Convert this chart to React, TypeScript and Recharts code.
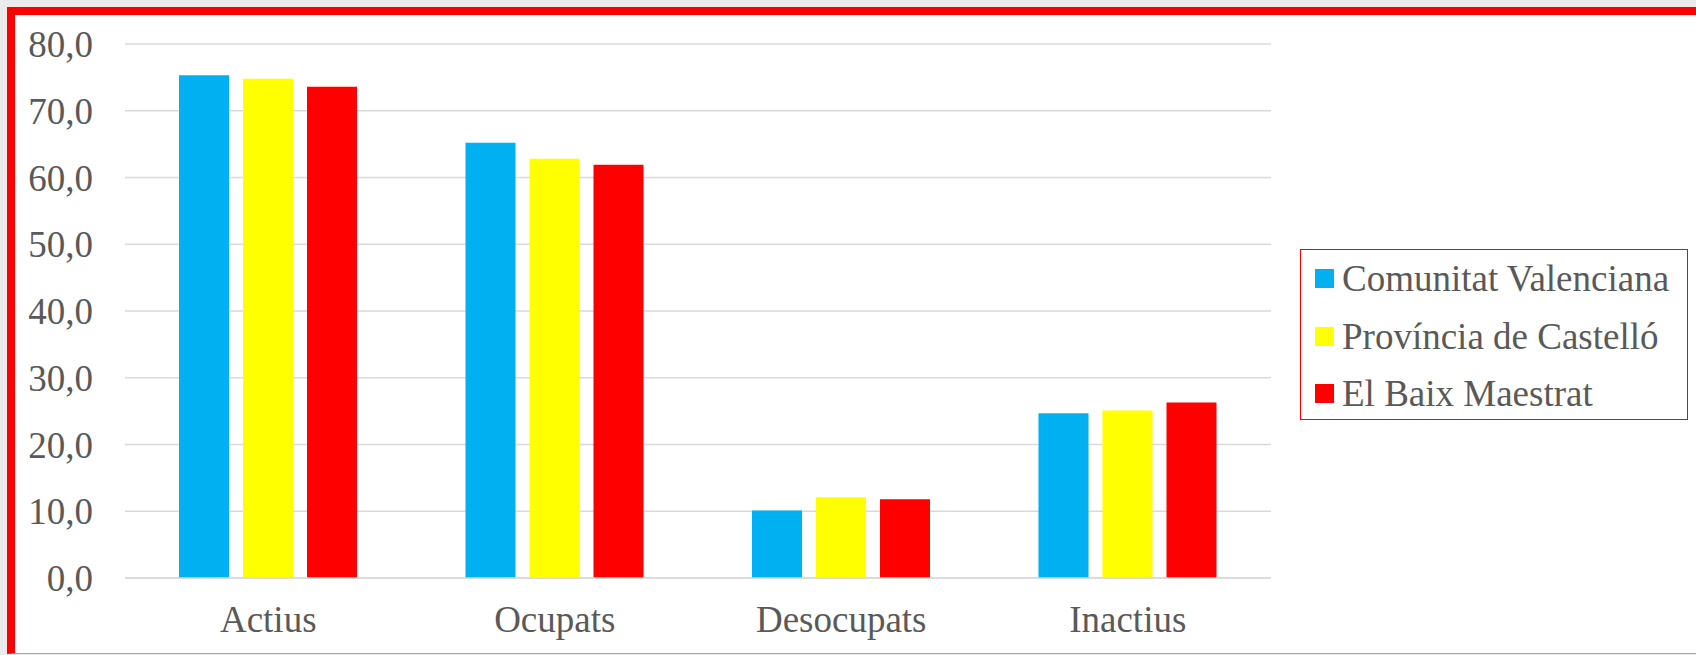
import { BarChart, Bar, XAxis, YAxis, CartesianGrid, Legend } from "recharts";

const categories = ["Actius", "Ocupats", "Desocupats", "Inactius"];
const comunitat = [75.3, 65.2, 10.1, 24.7];
const castello = [74.8, 62.8, 12.1, 25.1];
const baixMaestrat = [73.6, 61.9, 11.8, 26.3];
const yTicks = [0, 10, 20, 30, 40, 50, 60, 70, 80];

const series = [
  { key: "cv", name: "Comunitat Valenciana", color: "#00B0F0", values: comunitat },
  { key: "pc", name: "Província de Castelló", color: "#FFFF00", values: castello },
  { key: "bm", name: "El Baix Maestrat", color: "#FF0000", values: baixMaestrat },
];

const data = categories.map((c, i) => {
  const row: Record<string, string | number> = { label: c };
  series.forEach((s) => (row[s.key] = s.values[i]));
  return row;
});

const FONT = "'Liberation Serif', 'Times New Roman', serif";
const TEXT = "#595959";

// legend drawn in series order, in a fixed box to the right of the plot
const LegendBox = () => (
  <div
    style={{
      position: "absolute",
      left: 0,
      top: 0,
      boxSizing: "border-box",
      width: 388,
      height: 171,
      border: "1.5px solid #FF0000",
      padding: "0 0 0 14px",
      fontFamily: FONT,
      fontSize: 37,
      color: TEXT,
      background: "#fff",
    }}
  >
    {series.map((s) => (
      <div key={s.key} style={{ display: "flex", alignItems: "center", height: 57.5, whiteSpace: "nowrap" }}>
        <span style={{ display: "inline-block", width: 19, height: 19, background: s.color, marginRight: 8 }} />
        {s.name}
      </div>
    ))}
  </div>
);

const App = () => {
  return (
    <div style={{ position: "fixed", left: 0, top: 0, width: 1696, height: 655, background: "#ebebeb", overflow: "hidden" }}>
      <div
        style={{
          position: "absolute",
          left: 7,
          top: 7,
          right: 0,
          bottom: 1,
          boxSizing: "border-box",
          background: "#ffffff",
          borderLeft: "8px solid #FF0000",
          borderTop: "8px solid #FF0000",
          borderBottom: "1px solid #FF8080",
        }}
      />
      <div style={{ position: "absolute", left: 0, top: 0 }}>
        <BarChart
          width={1696}
          height={655}
          data={data}
          margin={{ top: 44, right: 425, bottom: 17, left: 0 }}
          barSize={50}
          barGap={14}
        >
          <CartesianGrid vertical={false} stroke="#d9d9d9" strokeWidth={1.5} />
          <XAxis
            dataKey="label"
            height={60}
            tickLine={false}
            tickSize={0}
            tickMargin={28}
            axisLine={{ stroke: "#d9d9d9", strokeWidth: 1.5 }}
            tick={{ fill: TEXT, fontSize: 37, fontFamily: FONT }}
          />
          <YAxis
            width={125}
            domain={[0, 80]}
            ticks={yTicks}
            interval={0}
            tickLine={false}
            axisLine={false}
            tickSize={0}
            tickMargin={32}
            tickFormatter={(v: number) => v.toFixed(1).replace(".", ",")}
            tick={{ fill: TEXT, fontSize: 37, fontFamily: FONT }}
          />
          <Legend
            content={<LegendBox />}
            wrapperStyle={{ position: "absolute", left: 1300, top: 249, width: 0, height: 0, overflow: "visible" }}
          />
          {series.map((s) => (
            <Bar key={s.key} dataKey={s.key} name={s.name} fill={s.color} isAnimationActive={false} />
          ))}
        </BarChart>
      </div>
    </div>
  );
};

export default App;
